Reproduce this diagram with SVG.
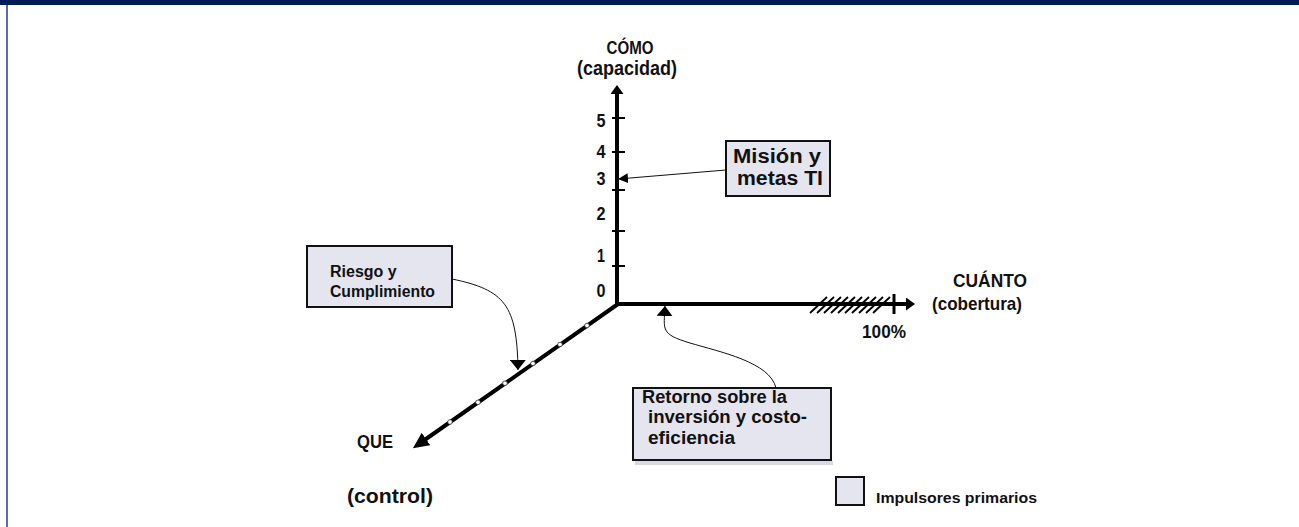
<svg xmlns="http://www.w3.org/2000/svg" width="1299" height="527" viewBox="0 0 1299 527">
<style>
.t{font-family:"Liberation Sans",Arial,sans-serif;font-weight:bold;fill:#111}
.box{fill:#e5e5ef;stroke:#111;stroke-width:2}
.ax{stroke:#000;stroke-width:4;fill:none}
.tick{stroke:#000;stroke-width:2}
.con{stroke:#111;stroke-width:1;fill:none}
.dot{fill:#fff;stroke:#333;stroke-width:0.8}
.hatch{stroke:#000;stroke-width:1.8}
</style>
<defs>
<marker id="axArrow" markerUnits="userSpaceOnUse" viewBox="0 0 9 13" markerWidth="9" markerHeight="13" refX="0" refY="6.5" orient="auto"><path d="M0,0 L9,6.5 L0,13 z" fill="#000"/></marker>
<marker id="axArrowBig" markerUnits="userSpaceOnUse" viewBox="0 0 16 15" markerWidth="16" markerHeight="15" refX="0" refY="7.5" orient="auto"><path d="M0,0 L16,7.5 L0,15 z" fill="#000"/></marker>
<marker id="arrS" markerUnits="userSpaceOnUse" viewBox="0 0 10 10" markerWidth="10" markerHeight="10" refX="10" refY="5" orient="auto"><path d="M0,0 L10,5 L0,10 z" fill="#000"/></marker>
<marker id="arrW" markerUnits="userSpaceOnUse" viewBox="0 0 10 16" markerWidth="10" markerHeight="16" refX="10" refY="8" orient="auto"><path d="M0,0 L10,8 L0,16 z" fill="#000"/></marker>
</defs>
<rect x="0" y="0" width="1299" height="5" fill="#001e56"/>
<line x1="7" y1="5" x2="7" y2="527" stroke="#5c6c9c" stroke-width="2"/>

<g id="axes">
<line class="ax" x1="617" y1="306" x2="617" y2="94" marker-end="url(#axArrow)"/>
<line class="ax" x1="615" y1="304" x2="906" y2="304" marker-end="url(#axArrow)"/>
<line class="ax" x1="618" y1="304" x2="426" y2="439" stroke-linecap="round" marker-end="url(#axArrowBig)"/>
<line class="tick" x1="612" y1="118" x2="625" y2="118"/>
<line class="tick" x1="612" y1="152" x2="625" y2="152"/>
<line class="tick" x1="612" y1="190" x2="625" y2="190"/>
<line class="tick" x1="612" y1="231" x2="625" y2="231"/>
<line class="tick" x1="612" y1="266" x2="625" y2="266"/>
<line x1="894" y1="294" x2="894" y2="314" stroke="#000" stroke-width="3"/>
<g class="hatch">
<line x1="810" y1="313" x2="827" y2="297"/>
<line x1="817" y1="313" x2="834" y2="297"/>
<line x1="824" y1="313" x2="841" y2="297"/>
<line x1="831" y1="313" x2="848" y2="297"/>
<line x1="838" y1="313" x2="855" y2="297"/>
<line x1="845" y1="313" x2="862" y2="297"/>
<line x1="852" y1="313" x2="869" y2="297"/>
<line x1="859" y1="313" x2="876" y2="297"/>
<line x1="866" y1="313" x2="883" y2="297"/>
<line x1="873" y1="313" x2="890" y2="297"/>
</g>
<circle class="dot" cx="587" cy="325.5" r="2.3"/>
<circle class="dot" cx="560" cy="344.5" r="2.3"/>
<circle class="dot" cx="533" cy="363.5" r="2.3"/>
<circle class="dot" cx="505" cy="383.2" r="2.3"/>
<circle class="dot" cx="478" cy="402.3" r="2.3"/>
<circle class="dot" cx="450" cy="422" r="2.3"/>
<g class="t" font-size="18" text-anchor="middle">
<text x="601" y="127" textLength="9" lengthAdjust="spacingAndGlyphs">5</text>
<text x="601" y="158" textLength="9" lengthAdjust="spacingAndGlyphs">4</text>
<text x="601" y="185" textLength="9" lengthAdjust="spacingAndGlyphs">3</text>
<text x="601" y="220" textLength="9" lengthAdjust="spacingAndGlyphs">2</text>
<text x="601" y="262" textLength="8" lengthAdjust="spacingAndGlyphs">1</text>
<text x="601" y="297" textLength="9" lengthAdjust="spacingAndGlyphs">0</text>
</g>
<text class="t" x="630" y="54" font-size="18" text-anchor="middle" textLength="47" lengthAdjust="spacingAndGlyphs">CÓMO</text>
<text class="t" x="627" y="75" font-size="20" text-anchor="middle" textLength="100" lengthAdjust="spacingAndGlyphs">(capacidad)</text>
<text class="t" x="990" y="287" font-size="18" text-anchor="middle" textLength="74" lengthAdjust="spacingAndGlyphs">CUÁNTO</text>
<text class="t" x="977" y="310" font-size="19" text-anchor="middle" textLength="90" lengthAdjust="spacingAndGlyphs">(cobertura)</text>
<text class="t" x="884" y="338" font-size="18" text-anchor="middle" textLength="44" lengthAdjust="spacingAndGlyphs">100%</text>
<text class="t" x="375" y="448" font-size="19" text-anchor="middle" textLength="36" lengthAdjust="spacingAndGlyphs">QUE</text>
<text class="t" x="390" y="503" font-size="20" text-anchor="middle" textLength="86" lengthAdjust="spacingAndGlyphs">(control)</text>
</g>

<g id="connectors">
<line class="con" x1="726" y1="170" x2="618" y2="179" marker-end="url(#arrS)"/>
<path class="con" d="M452,279 C505,290 517,305 518,370" marker-end="url(#arrW)"/>
<path class="con" d="M776,388 C770,362 720,352 690,343 C660,334 664,330 665,306" marker-end="url(#arrW)"/>
</g>

<g id="mision">
<rect class="box" x="726" y="141" width="104" height="55"/>
<text class="t" x="733" y="163" font-size="20" textLength="88" lengthAdjust="spacingAndGlyphs">Misión y</text>
<text class="t" x="737" y="185" font-size="20" textLength="86" lengthAdjust="spacingAndGlyphs">metas TI</text>
</g>

<g id="riesgo">
<rect class="box" x="307" y="246" width="145" height="61"/>
<text class="t" x="330" y="277" font-size="16">Riesgo y</text>
<text class="t" x="330" y="297" font-size="16" textLength="105" lengthAdjust="spacingAndGlyphs">Cumplimiento</text>
</g>

<g id="retorno">
<rect x="635" y="461" width="198" height="4" fill="#d9d9df"/>
<rect class="box" x="633" y="388" width="198" height="72"/>
<text class="t" x="642" y="403" font-size="18" textLength="145" lengthAdjust="spacingAndGlyphs">Retorno sobre la</text>
<text class="t" x="648" y="423" font-size="18" textLength="159" lengthAdjust="spacingAndGlyphs">inversión y costo-</text>
<text class="t" x="648" y="444" font-size="18" textLength="87" lengthAdjust="spacingAndGlyphs">eficiencia</text>
</g>

<g id="legend">
<rect class="box" x="836" y="477" width="28" height="28"/>
<text class="t" x="876" y="503" font-size="15" textLength="161" lengthAdjust="spacingAndGlyphs">Impulsores primarios</text>
</g>
</svg>
